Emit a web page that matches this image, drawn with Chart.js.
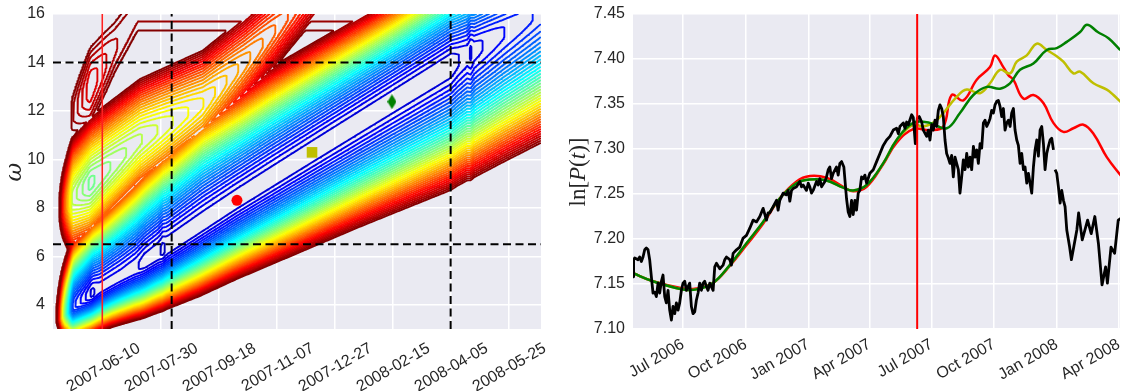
<!DOCTYPE html>
<html>
<head>
<meta charset="utf-8">
<script src="https://cdn.jsdelivr.net/npm/chart.js@4.4.1/dist/chart.umd.min.js"></script>
<style>
  html, body { margin: 0; padding: 0; background: #fff; }
  #wrap { position: relative; width: 1122px; height: 391px; }
  canvas { position: absolute; top: 0; }
  #costChart { left: 0; }
  #priceChart { left: 560px; }
</style>
</head>
<body>
<div id="wrap">
  <canvas id="costChart" width="560" height="391"></canvas>
  <canvas id="priceChart" width="562" height="391"></canvas>
</div>
<script>
// ---------- left panel: fit cost over (tc, omega), tc in days after 2007-06-10 ----------
const tcTickDays = [0, 50, 100, 150, 200, 250, 300, 350];
const tcTickLabels = ['2007-06-10', '2007-07-30', '2007-09-18', '2007-11-07',
                      '2007-12-27', '2008-02-15', '2008-04-05', '2008-05-25'];
const omegaTicks = [4, 6, 8, 10, 12, 14, 16];

// main (blue) valley: axis, floor level and half widths on each side
const mainAxisDays  = [-43, -37, -9.4, 32, 115.6, 180.3, 249.2, 307.8, 377.7];
const mainAxisOmega = [3.4, 3.55, 4.45, 5.6, 8.31, 10.29, 12.38, 14.15, 16.2];
const mainFloorDays = [-43, -37, -25, -15, -9.4, -3, 15, 28, 36, 48, 51.6, 55, 300, 306, 314, 317.3, 320, 345, 378];
const mainFloor     = [0.55, 0.35, 0.16, 0.11, 0.08, 0.10, 0.10, 0.093, 0.075, 0.07, 0.058, 0.07, 0.07, 0.085, 0.098, 0.082, 0.10, 0.13, 0.16];
const mainAboveDays = [-43, -11, 32, 86, 118, 144, 250, 378];
const mainAbove     = [3.0, 3.3, 4.2, 4.77, 4.6, 4.6, 4.3, 4.2];
const mainBelowDays = [-43, -37, 8, 83.7, 170, 221.6, 299.2, 378];
const mainBelow     = [1.4, 1.5, 1.9, 2.92, 3.81, 4.33, 5.18, 5.9];

// second valley (green / yellow / orange basin)
const upperAxisDays  = [-43, -11, 32, 86, 122, 161, 200];
const upperAxisOmega = [7.8, 9.0, 10.8, 12.3, 14.0, 16.0, 17.8];
const upperFloor     = [0.62, 0.48, 0.55, 0.64, 0.72, 0.80, 0.90];
const upperAbove     = [3.8, 4.0, 4.0, 4.0, 4.0, 4.0, 4.0];
const upperBelow     = [3.8, 3.8, 3.8, 3.8, 3.8, 3.8, 3.8];

// small dark red pocket in the top left corner
const topAxisDays  = [-30, -11, 10, 30];
const topAxisOmega = [11.6, 13.0, 14.6, 16.1];
const topFloor     = [1.0, 0.89, 0.95, 0.97];
const topWidth     = [6, 6, 6, 6];

// cost rises steeply against the start of the window
const leftWallDays  = [-43, -35, -27];
const leftWallLevel = [0.7, 0.25, 0];

// best fits and search box
const fitTc    = [115.6, 180.3, 249.2];
const fitOmega = [8.31, 10.29, 12.38];
const boxTc    = [59.3, 299.8];
const boxOmega = [6.5, 14];
const windowEndTc = -0.5;

// ---------- right panel: log price and LPPL fits, days after 2006-07-01 ----------
const quarterDays   = [0, 92, 184, 274, 365, 457, 549, 640];
const quarterLabels = ['Jul 2006', 'Oct 2006', 'Jan 2007', 'Apr 2007',
                       'Jul 2007', 'Oct 2007', 'Jan 2008', 'Apr 2008'];
const logTicks = [7.10, 7.15, 7.20, 7.25, 7.30, 7.35, 7.40, 7.45];
const windowEndDay = 344;

// daily close (log); null marks a missing stretch
const closeDays = [-73.5,-72.6,-71,-66.1,-63.7,-61.2,-58.8,-56.3,-53.9,-51.4,-49,-46.5,-44.1,-41.6,-39.2,-36.7,-34.3,-31.8,-29.4,-26.9,-24.5,-22,-19.6,-17.1,-14.7,-12.2,-9.8,-7.3,-4.9,-2.4,0,2.5,4.9,7.4,9.8,12.3,14.7,17.2,19.6,22.1,24.5,27,29.5,31.9,34.4,36.8,39.3,44.2,46.6,49.1,54,58.9,61.3,63.8,68.7,71.1,73.6,78.5,83.4,88.3,93.2,98.1,103,107.9,112.8,117.7,122.6,125,127.5,132.4,137.3,139.7,142.2,147.1,152,154.5,156.9,159.4,161.8,166.7,171.6,174.1,176.5,181.4,183.9,186.3,188.8,191.2,196.1,198.6,201,203.5,208.4,210.8,213.3,215.7,218.2,220.6,225.5,228,230.4,232.9,236.3,240.2,242.7,245.1,247.6,250,252.5,254.9,257.4,259.8,262.3,264.7,267.2,269.7,274.5,279.5,284.4,289.3,294.2,299.1,304,308.9,313.8,316.3,318.7,323.6,326.1,328.5,331,335.9,338.3,341.3,344.2,347.1,350.6,353,357.9,360.4,362.8,365.3,367.7,370.2,372.6,375.1,377.5,380,382.4,384.9,387.3,389.8,392.2,394.7,397.1,399.6,402,404.5,406.9,409.4,411.8,414.3,416.8,419.2,421.7,424.1,426.6,429,431.5,433.9,436.4,438.8,441.3,443.7,446.2,448.6,451.1,453.5,456,458.4,460.9,463.3,465.8,468.2,470.7,473.1,475.6,478,480.5,482.9,485.4,487.8,490.3,492.7,495.2,497.6,500.1,502.5,505,507.4,509.9,512.3,514.8,517.2,519.7,522.1,524.6,527,529.5,531.9,534.4,536.8,539.3,541.7,544.2,545.4,546.6,549.1,551.5,554,556.4,558.9,561.3,563.8,568,570.6,578.6,581.2,586.5,594.4,599.7,605,610.3,615.6,620.9,623.5,628.8,634.1,639.4,643.6];
const closeLog  = [7.158,7.177,7.179,7.177,7.18,7.175,7.18,7.188,7.19,7.188,7.177,7.158,7.14,7.141,7.136,7.151,7.14,7.153,7.16,7.136,7.129,7.143,7.121,7.11,7.125,7.117,7.129,7.121,7.129,7.143,7.151,7.153,7.143,7.147,7.151,7.125,7.117,7.119,7.132,7.14,7.151,7.143,7.151,7.153,7.147,7.143,7.151,7.143,7.169,7.173,7.167,7.171,7.177,7.18,7.177,7.171,7.184,7.188,7.191,7.201,7.204,7.212,7.221,7.219,7.225,7.234,7.221,7.229,7.229,7.236,7.243,7.232,7.243,7.251,7.249,7.254,7.242,7.254,7.256,7.258,7.264,7.258,7.26,7.254,7.262,7.258,7.251,7.254,7.264,7.26,7.267,7.258,7.264,7.269,7.277,7.28,7.267,7.273,7.28,7.271,7.284,7.286,7.28,7.245,7.23,7.225,7.243,7.227,7.243,7.232,7.251,7.254,7.269,7.267,7.271,7.262,7.273,7.277,7.286,7.295,7.304,7.31,7.314,7.321,7.323,7.317,7.325,7.329,7.323,7.33,7.327,7.338,7.335,7.306,7.334,7.336,7.33,7.321,7.314,7.321,7.31,7.327,7.321,7.332,7.325,7.343,7.349,7.345,7.336,7.31,7.295,7.29,7.284,7.293,7.269,7.291,7.284,7.277,7.251,7.269,7.288,7.277,7.295,7.28,7.291,7.277,7.303,7.291,7.299,7.284,7.306,7.301,7.329,7.332,7.325,7.329,7.334,7.343,7.34,7.349,7.353,7.354,7.347,7.336,7.345,7.321,7.329,7.332,7.325,7.34,7.345,7.321,7.31,7.304,7.284,7.295,7.277,7.28,7.262,7.273,7.262,7.251,7.28,7.299,7.31,7.292,7.321,7.325,7.306,7.277,7.295,7.303,7.31,7.312,7.299,null,7.277,7.273,7.258,7.24,7.254,7.243,7.236,7.21,7.191,7.177,7.21,7.229,7.199,7.221,7.206,7.225,7.195,7.149,7.169,7.151,7.191,7.184,7.221,7.223];

const redFitDays = [-73.5,-44,0,19.7,44,68.7,93,117.6,142,166.8,186.3,210.8,235.3,250,269.7,294,313.8,338.2,362.8,382.4,394.7,411.8,431.5,451,458.4,470.6,478,485.3,500,514.7,529.4,544.1,558.8,573.5,588.2,603,622.6,644.7];
const redFitLog  = [7.162,7.153,7.145,7.145,7.151,7.17,7.193,7.217,7.245,7.264,7.27,7.268,7.258,7.253,7.258,7.283,7.307,7.322,7.321,7.325,7.36,7.354,7.377,7.391,7.404,7.391,7.382,7.377,7.356,7.36,7.351,7.329,7.319,7.323,7.327,7.317,7.291,7.269];
const yellowFitDays = [-73.5,-44,0,19.7,44,68.7,93,117.6,142,166.8,186.3,210.8,235.3,250,269.7,294,313.8,338.2,353,372.6,402,416.8,436.3,451,465.7,480.4,490.3,505,519.7,534.4,549.1,558.8,573.5,583.4,603,622.6,632.4,644.7];
const yellowFitLog  = [7.162,7.153,7.144,7.144,7.151,7.171,7.195,7.219,7.245,7.262,7.266,7.265,7.257,7.254,7.26,7.284,7.31,7.327,7.325,7.332,7.358,7.366,7.362,7.373,7.388,7.384,7.397,7.404,7.417,7.41,7.403,7.397,7.384,7.386,7.373,7.366,7.36,7.351];
const greenFitDays = [-73.5,-44,0,19.7,44,68.7,93,117.6,142,166.8,186.3,210.8,235.3,250,269.7,294,313.8,338.2,362.8,387.4,406.9,426.5,446.2,465.7,480.4,495.1,514.7,534.4,549.1,563.8,583.4,593.5,609.3,625.1,642.5];
const greenFitLog  = [7.162,7.153,7.144,7.144,7.151,7.171,7.195,7.219,7.245,7.262,7.266,7.265,7.257,7.254,7.26,7.284,7.31,7.329,7.329,7.323,7.34,7.36,7.369,7.367,7.373,7.388,7.395,7.41,7.412,7.419,7.43,7.438,7.43,7.423,7.41];

// ---------- helpers ----------
Chart.defaults.font.family = "'Liberation Sans', Arial, sans-serif";
Chart.defaults.font.size = 16;
Chart.defaults.color = '#262626';

function interp(xs, ys, x) {
  if (x <= xs[0]) return ys[0];
  for (let i = 1; i < xs.length; i++) {
    if (x <= xs[i]) {
      const f = (x - xs[i - 1]) / (xs[i] - xs[i - 1]);
      return ys[i - 1] + f * (ys[i] - ys[i - 1]);
    }
  }
  return ys[ys.length - 1];
}

function jet(t) {
  const c = v => Math.round(255 * Math.max(0, Math.min(1, v)));
  return `rgb(${c(1.5 - Math.abs(4 * t - 3))},${c(1.5 - Math.abs(4 * t - 2))},${c(1.5 - Math.abs(4 * t - 1))})`;
}

// each valley: flat bottom, then cost = floor + 0.93 * u^1.5 across the half width
function makeValley(axisDays, axisOmega, floorDays, floor, aboveDays, above, belowDays, below) {
  return (day, om) => {
    const d = om - interp(axisDays, axisOmega, day);
    const hw = d >= 0 ? interp(aboveDays, above, day) : interp(belowDays, below, day);
    const u = Math.max(0, (Math.abs(d) / hw - 0.04) / 0.96);
    return interp(floorDays, floor, day) + 0.93 * Math.pow(u, 1.5);
  };
}

const valleys = [
  makeValley(mainAxisDays, mainAxisOmega, mainFloorDays, mainFloor, mainAboveDays, mainAbove, mainBelowDays, mainBelow),
  makeValley(upperAxisDays, upperAxisOmega, upperAxisDays, upperFloor, upperAxisDays, upperAbove, upperAxisDays, upperBelow),
  makeValley(topAxisDays, topAxisOmega, topAxisDays, topFloor, topAxisDays, topWidth, topAxisDays, topWidth)
];

function cost(day, om) {
  let v = Infinity;
  for (const f of valleys) v = Math.min(v, f(day, om));
  return v + interp(leftWallDays, leftWallLevel, day);
}

// sample the surface
const gx = [], gy = [];
for (let x = -43; x <= 378.01; x += 1.5) gx.push(x);
for (let y = 3; y <= 16.001; y += 0.04) gy.push(y);
const gz = gy.map(y => gx.map(x => cost(x, y)));

// marching squares, segments chained into polylines
const CASES = {1: [[3, 0]], 2: [[0, 1]], 3: [[3, 1]], 4: [[1, 2]], 6: [[0, 2]], 7: [[3, 2]],
               8: [[2, 3]], 9: [[0, 2]], 11: [[1, 2]], 12: [[1, 3]], 13: [[0, 1]], 14: [[0, 3]]};

function contour(level) {
  const nx = gx.length;
  const segs = [];
  for (let j = 0; j < gy.length - 1; j++) {
    for (let i = 0; i < nx - 1; i++) {
      const v0 = gz[j][i], v1 = gz[j][i + 1], v2 = gz[j + 1][i + 1], v3 = gz[j + 1][i];
      const idx = (v0 > level ? 1 : 0) | (v1 > level ? 2 : 0) | (v2 > level ? 4 : 0) | (v3 > level ? 8 : 0);
      if (idx === 0 || idx === 15) continue;
      let pairs = CASES[idx];
      if (idx === 5 || idx === 10) {
        const hi = (v0 + v1 + v2 + v3) / 4 > level;
        if (idx === 5) pairs = hi ? [[0, 1], [2, 3]] : [[3, 0], [1, 2]];
        else pairs = hi ? [[3, 0], [1, 2]] : [[0, 1], [2, 3]];
      }
      const pt = e => {
        if (e === 0) return {k: (j * nx + i) * 2, x: gx[i] + (level - v0) / (v1 - v0) * (gx[i + 1] - gx[i]), y: gy[j]};
        if (e === 1) return {k: (j * nx + i + 1) * 2 + 1, x: gx[i + 1], y: gy[j] + (level - v1) / (v2 - v1) * (gy[j + 1] - gy[j])};
        if (e === 2) return {k: ((j + 1) * nx + i) * 2, x: gx[i] + (level - v3) / (v2 - v3) * (gx[i + 1] - gx[i]), y: gy[j + 1]};
        return {k: (j * nx + i) * 2 + 1, x: gx[i], y: gy[j] + (level - v0) / (v3 - v0) * (gy[j + 1] - gy[j])};
      };
      for (const [a, b] of pairs) segs.push([pt(a), pt(b)]);
    }
  }
  const ends = new Map();
  segs.forEach((s, n) => s.forEach(p => {
    if (!ends.has(p.k)) ends.set(p.k, []);
    ends.get(p.k).push(n);
  }));
  const used = new Uint8Array(segs.length);
  const walk = line => {
    for (;;) {
      const last = line[line.length - 1];
      const next = (ends.get(last.k) || []).find(n => !used[n]);
      if (next === undefined) return;
      used[next] = 1;
      const s = segs[next];
      line.push(s[0].k === last.k ? s[1] : s[0]);
    }
  };
  const out = [];
  segs.forEach((s, n) => {
    if (used[n]) return;
    used[n] = 1;
    const line = [s[0], s[1]];
    walk(line);
    line.reverse();
    walk(line);
    line.forEach(p => out.push({x: p.x, y: p.y}));
    out.push({x: line[line.length - 1].x, y: null});
  });
  return out;
}

const contourLevels = [];
for (let k = 0; k < 45; k++) contourLevels.push(0.02 + k * 0.0222);

function thinDiamond(w, h, color) {
  const c = document.createElement('canvas');
  c.width = w; c.height = h;
  const g = c.getContext('2d');
  g.fillStyle = color;
  g.beginPath();
  g.moveTo(w / 2, 0); g.lineTo(w, h / 2); g.lineTo(w / 2, h); g.lineTo(0, h / 2);
  g.closePath(); g.fill();
  return c;
}

const panelBackground = {
  id: 'panelBackground',
  beforeDraw(chart) {
    const {ctx, chartArea: a} = chart;
    ctx.save();
    ctx.fillStyle = '#eaeaf2';
    ctx.fillRect(a.left, a.top, a.width, a.height);
    ctx.restore();
  }
};

function fixedBox(width, height) {
  return scale => {
    if (width !== undefined) scale.width = width;
    if (height !== undefined) scale.height = height;
    scale.paddingLeft = scale.paddingRight = scale.paddingTop = scale.paddingBottom = 0;
  };
}

const gridStyle = {color: '#ffffff', lineWidth: 1.5, drawTicks: false};

// ---------- left chart ----------
const costDatasets = [];
const hLine = (y, color, width, dash, order) => ({
  data: [{x: -43, y}, {x: 378, y}], showLine: true, pointRadius: 0,
  borderColor: color, borderWidth: width, borderDash: dash, order
});
const vLine = (x, color, width, dash, order) => ({
  data: [{x, y: 3}, {x, y: 16}], showLine: true, pointRadius: 0,
  borderColor: color, borderWidth: width, borderDash: dash, order
});
costDatasets.push(
  {data: [{x: fitTc[0], y: fitOmega[0]}], pointStyle: 'circle', pointRadius: 5.5,
   backgroundColor: '#ff0000', borderWidth: 0, order: -3},
  {data: [{x: fitTc[1], y: fitOmega[1]}], pointStyle: 'rect', pointRadius: 7.5,
   backgroundColor: '#bfbf00', borderWidth: 0, order: -3},
  {data: [{x: fitTc[2], y: fitOmega[2]}], pointStyle: thinDiamond(9, 15, '#008000'), pointRadius: 7,
   order: -3},
  hLine(boxOmega[0], '#000', 2, [8, 4.5], -2),
  hLine(boxOmega[1], '#000', 2, [8, 4.5], -2),
  vLine(boxTc[0], '#000', 2, [8, 4.5], -2),
  vLine(boxTc[1], '#000', 2, [8, 4.5], -2),
  vLine(windowEndTc, '#ff2020', 1.6, [], -1)
);
contourLevels.forEach((lv, k) => costDatasets.push({
  data: contour(lv), showLine: true, pointRadius: 0, borderWidth: 1.9,
  borderColor: jet(lv), borderCapStyle: 'round', borderJoinStyle: 'round',
  order: 100 - k, parsing: false
}));

new Chart(document.getElementById('costChart'), {
  type: 'scatter',
  data: {datasets: costDatasets},
  options: {
    responsive: false, animation: false, events: [],
    layout: {padding: {left: 0, right: 19, top: 14, bottom: 0}},
    plugins: {legend: {display: false}, tooltip: {enabled: false}},
    scales: {
      x: {
        type: 'linear', min: -43, max: 377.7,
        afterBuildTicks: s => { s.ticks = tcTickDays.map(v => ({value: v})); },
        afterFit: fixedBox(undefined, 62),
        border: {display: false}, grid: gridStyle,
        ticks: {minRotation: 30, maxRotation: 30, autoSkip: false, padding: 10, labelOffset: 36,
                callback: (v, i) => tcTickLabels[i]}
      },
      y: {
        type: 'linear', min: 3, max: 16,
        afterBuildTicks: s => { s.ticks = omegaTicks.map(v => ({value: v})); },
        afterFit: fixedBox(53, undefined),
        border: {display: false}, grid: gridStyle,
        ticks: {padding: 8, autoSkip: false}
      }
    }
  },
  plugins: [panelBackground, {
    id: 'omegaLabel',
    afterDraw(chart) {
      const ctx = chart.ctx;
      ctx.save();
      ctx.translate(15, 172);
      ctx.rotate(-Math.PI / 2);
      ctx.font = "italic 23px 'DejaVu Serif', serif";
      ctx.fillStyle = '#262626';
      ctx.textAlign = 'center';
      ctx.textBaseline = 'middle';
      ctx.fillText('ω', 0, 0);
      ctx.restore();
    }
  }]
});

// ---------- right chart ----------
const pairs = (xs, ys) => xs.map((x, i) => ({x, y: ys[i]}));
new Chart(document.getElementById('priceChart'), {
  type: 'scatter',
  data: {datasets: [
    {data: [{x: windowEndDay, y: 7.10}, {x: windowEndDay, y: 7.45}], showLine: true, pointRadius: 0,
     borderColor: '#ff0000', borderWidth: 2, order: -1},
    {data: pairs(closeDays, closeLog), showLine: true, pointRadius: 0, borderColor: '#000000',
     borderWidth: 2.8, borderJoinStyle: 'round', order: 0},
    {data: pairs(greenFitDays, greenFitLog), showLine: true, pointRadius: 0, borderColor: '#008000',
     borderWidth: 2.5, tension: 0.4, order: 1},
    {data: pairs(yellowFitDays, yellowFitLog), showLine: true, pointRadius: 0, borderColor: '#bfbf00',
     borderWidth: 2.5, tension: 0.4, order: 2},
    {data: pairs(redFitDays, redFitLog), showLine: true, pointRadius: 0, borderColor: '#ff0000',
     borderWidth: 2.5, tension: 0.4, order: 3}
  ]},
  options: {
    responsive: false, animation: false, events: [],
    layout: {padding: {left: 0, right: 2, top: 14, bottom: 0}},
    plugins: {legend: {display: false}, tooltip: {enabled: false}},
    scales: {
      x: {
        type: 'linear', min: -73.5, max: 642,
        afterBuildTicks: s => { s.ticks = quarterDays.map(v => ({value: v})); },
        afterFit: fixedBox(undefined, 62),
        border: {display: false}, grid: gridStyle,
        ticks: {minRotation: 30, maxRotation: 30, autoSkip: false, padding: 6,
                callback: (v, i) => quarterLabels[i]}
      },
      y: {
        type: 'linear', min: 7.10, max: 7.45,
        afterBuildTicks: s => { s.ticks = logTicks.map(v => ({value: v})); },
        afterFit: fixedBox(73, undefined),
        border: {display: false}, grid: gridStyle,
        ticks: {padding: 8, autoSkip: false, callback: v => v.toFixed(2)}
      }
    }
  },
  plugins: [panelBackground, {
    id: 'priceLabel',
    afterDraw(chart) {
      const ctx = chart.ctx;
      const parts = [['ln[', ''], ['P', 'italic '], ['(', ''], ['t', 'italic '], [')]', '']];
      ctx.save();
      ctx.translate(19, 172);
      ctx.rotate(-Math.PI / 2);
      ctx.fillStyle = '#262626';
      ctx.textBaseline = 'middle';
      let total = 0;
      parts.forEach(([s, st]) => { ctx.font = st + "23px 'Liberation Serif', serif"; total += ctx.measureText(s).width; });
      let x = -total / 2;
      parts.forEach(([s, st]) => {
        ctx.font = st + "23px 'Liberation Serif', serif";
        ctx.fillText(s, x, 0);
        x += ctx.measureText(s).width;
      });
      ctx.restore();
    }
  }]
});
</script>
</body>
</html>
